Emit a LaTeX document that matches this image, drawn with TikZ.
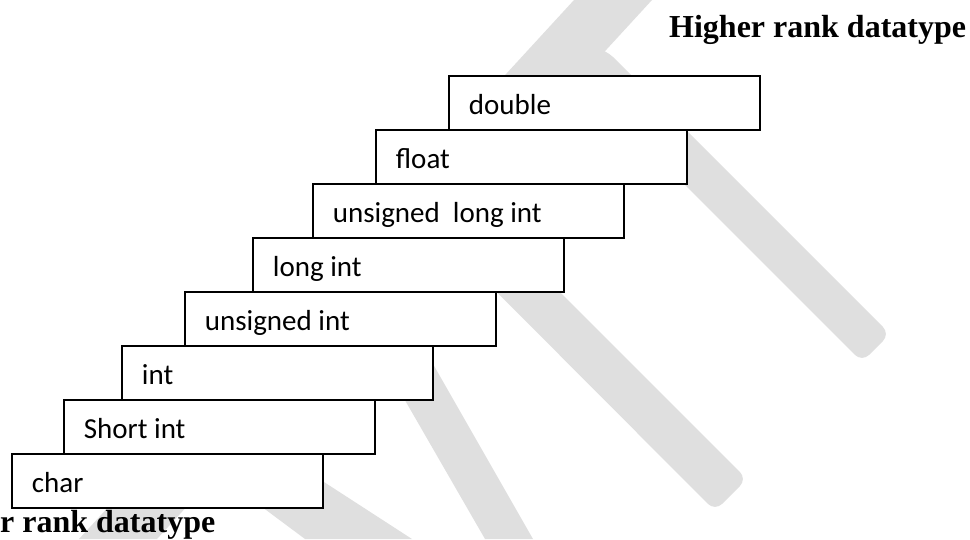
\documentclass[tikz,border=0pt]{standalone}
\usepackage{fontspec}
\setmainfont{Liberation Serif}
\newfontfamily\boxfont{Carlito}
\definecolor{markgray}{RGB}{223,223,223}

\begin{document}
\begin{tikzpicture}[x=1pt,y=-1pt,
            stepbox/.style={rectangle,draw,fill=white,line width=1.8pt,anchor=north west,
              minimum height=54pt,text width=271pt,inner xsep=20pt,inner ysep=0pt,
              align=flush left,text height=27pt,text depth=3pt,
              font=\boxfont\fontsize{29}{34}\selectfont},
            ranklabel/.style={font=\bfseries\fontsize{32}{38}\selectfont,inner sep=0pt,anchor=base west},
            band/.style={fill=markgray,draw=none}]

        \useasboundingbox (0,0) rectangle (970,539);

        % Background strokes
        \fill[band] (574,0) -- (652,0) -- (157,539) -- (79,539) -- cycle;
        \fill[band,rounded corners=10pt] (537,37) -- (606,50) -- (890,334) -- (862,362) -- cycle;
        \fill[band,rounded corners=10pt] (405,200) -- (468,200) -- (747,479) -- (715,511) -- cycle;
        \fill[band] (376,350) -- (425,350) -- (533,539) -- (485,539) -- cycle;
        \fill[band] (199,460) -- (290,460) -- (412,539) -- (305,539) -- cycle;

        % Define steps
        \node[stepbox] (char)   at (11,453)  {char};
        \node[stepbox] (short)  at (63,399)  {Short int};
        \node[stepbox] (int)    at (121,345) {int};
        \node[stepbox] (uint)   at (184,291) {unsigned int};
        \node[stepbox] (long)   at (252,237) {long int};
        \node[stepbox] (ulong)  at (312,183) {unsigned\ \ long int};
        \node[stepbox] (float)  at (375,129) {float};
        \node[stepbox] (double) at (448,75)  {double};

        % Captions
        \node[ranklabel] (high) at (669,37) {Higher rank datatype};
        \node[ranklabel] (low)  at (0,532)  {r rank datatype};

\end{tikzpicture}
\end{document}
